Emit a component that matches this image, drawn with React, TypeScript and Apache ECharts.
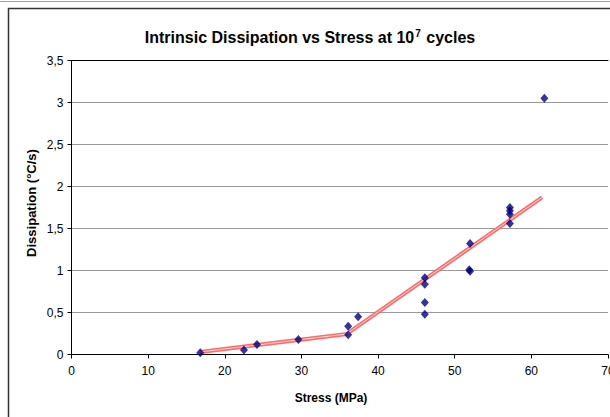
import React, { useEffect, useRef } from "react";
import * as echarts from "echarts";

// Measured points (stress MPa, dissipation °C/s)
const stress = [16.8, 22.5, 24.2, 29.6, 36.1, 36.1, 37.4, 46.1, 46.1, 46.1, 46.1, 52.0, 52.0, 51.9, 57.2, 57.2, 57.2, 57.2, 61.7];
const dissipation = [0.02, 0.055, 0.12, 0.18, 0.235, 0.335, 0.45, 0.915, 0.835, 0.62, 0.48, 1.32, 0.99, 1.01, 1.75, 1.71, 1.67, 1.56, 3.05];

// Trend segments
const trendLow = [[16.8, 0.03], [36.0, 0.245]];
const trendHigh = [[36.3, 0.27], [61.4, 1.87]];

const xTicks = [0, 10, 20, 30, 40, 50, 60, 70];
const yTicks = [0, 0.5, 1, 1.5, 2, 2.5, 3, 3.5];

const FONT = "Liberation Sans, Arial, sans-serif";

export default function App() {
  const ref = useRef<HTMLDivElement>(null);
  useEffect(() => {
    if (!ref.current) return;
    const chart = echarts.init(ref.current, null, { renderer: "svg" });
    const pts = stress.map((x, i) => [x, dissipation[i]]);
    const trendSeries = (data: number[][], id: string) => [
      {
        id: id + "o",
        type: "line",
        data,
        symbol: "none",
        silent: true,
        lineStyle: { color: "#ff6a6a", width: 4 },
        z: 2,
      },
      {
        id: id + "i",
        type: "line",
        data,
        symbol: "none",
        silent: true,
        lineStyle: { color: "#ffd6d6", width: 1 },
        z: 3,
      },
    ];
    const xMin = xTicks[0];
    const xMax = xTicks[xTicks.length - 1];
    chart.setOption({
      animation: false,
      backgroundColor: "#ffffff",
      grid: {
        left: 71.5,
        top: 60.5,
        right: 2,
        bottom: 62.5,
        outerBoundsMode: "none",
        containLabel: false,
        show: false,
      },
      xAxis: [
        {
          type: "value",
          min: xMin,
          max: xMax,
          interval: 10,
          axisLine: { show: true, lineStyle: { color: "#000", width: 1 } },
          axisTick: { show: true, length: 4, lineStyle: { color: "#000" } },
          axisLabel: { color: "#000", fontSize: 12, fontFamily: FONT, margin: 10, hideOverlap: false, showMaxLabel: true },
          splitLine: { show: false },
        },
        {
          type: "value",
          position: "top",
          min: xMin,
          max: xMax,
          interval: 10,
          axisLine: { show: true, onZero: false, lineStyle: { color: "#000", width: 1 } },
          axisTick: { show: false },
          axisLabel: { show: false },
          splitLine: { show: false },
        },
      ],
      yAxis: {
        type: "value",
        min: yTicks[0],
        max: yTicks[yTicks.length - 1],
        interval: 0.5,
        axisLine: { show: true, lineStyle: { color: "#000", width: 1 } },
        axisTick: { show: true, length: 4, lineStyle: { color: "#000" } },
        axisLabel: {
          color: "#000",
          fontSize: 12,
          fontFamily: FONT,
          margin: 8,
          formatter: (v: number) => String(v).replace(".", ","),
        },
        splitLine: { show: true, lineStyle: { color: "#999", width: 1 } },
      },
      series: [
        ...trendSeries(trendLow, "a"),
        ...trendSeries(trendHigh, "b"),
        {
          type: "scatter",
          data: pts,
          symbol: "diamond",
          symbolSize: [8, 9],
          itemStyle: { color: "#000080" },
          z: 5,
        },
      ],
      graphic: [
        {
          type: "line",
          shape: { x1: 0, y1: 1.5, x2: 610, y2: 1.5 },
          style: { stroke: "#a0a0a0", lineWidth: 1 },
          silent: true,
        },
        {
          type: "rect",
          shape: { x: 8.5, y: 8.5, width: 700, height: 500 },
          style: { fill: "transparent", stroke: "#333", lineWidth: 1.5 },
          silent: true,
        },
        {
          type: "text",
          x: 310,
          y: 37,
          style: {
            text: "{a|Intrinsic Dissipation vs Stress at 10}{s|7}{a| cycles}",
            align: "center",
            verticalAlign: "middle",
            rich: {
              a: { fontSize: 16, fontWeight: "bold", fontFamily: FONT, fill: "#000" },
              s: { fontSize: 10, fontWeight: "bold", fontFamily: FONT, fill: "#000", verticalAlign: "top", padding: [0, 1, 8, 1] },
            },
          },
        },
        {
          type: "text",
          x: 331,
          y: 398,
          style: {
            text: "Stress (MPa)",
            align: "center",
            verticalAlign: "middle",
            fontSize: 12,
            fontWeight: "bold",
            fontFamily: FONT,
            fill: "#000",
          },
        },
        {
          type: "text",
          x: 31.5,
          y: 203,
          rotation: Math.PI / 2,
          style: {
            text: "Dissipation (°C/s)",
            align: "center",
            verticalAlign: "middle",
            fontSize: 13,
            fontWeight: "bold",
            fontFamily: FONT,
            fill: "#000",
          },
        },
      ],
    });
    return () => chart.dispose();
  }, []);
  return (
    <div
      ref={ref}
      style={{ position: "fixed", left: 0, top: 0, width: 610, height: 417 }}
    />
  );
}
